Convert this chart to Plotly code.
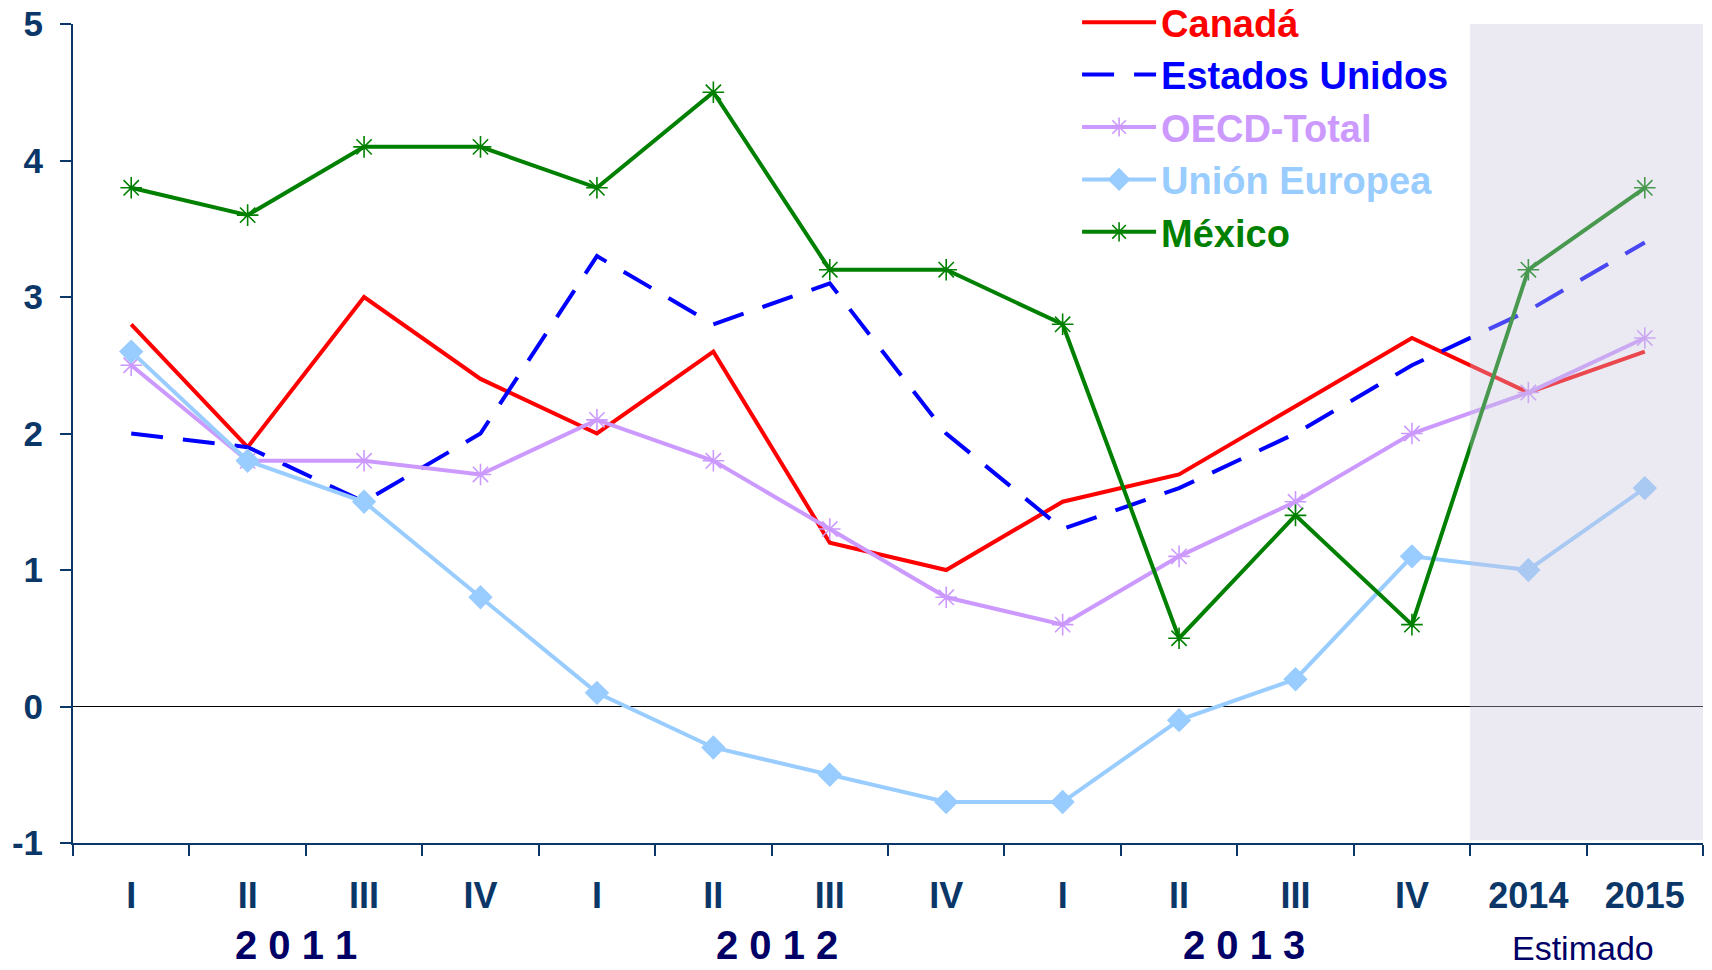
import plotly.graph_objects as go

categories = ["I", "II", "III", "IV", "I ", "II ", "III ", "IV ", "I  ", "II  ", "III  ", "IV  ", "2014", "2015"]
tick_text = ["I", "II", "III", "IV", "I", "II", "III", "IV", "I", "II", "III", "IV", "2014", "2015"]
y_ticks = [-1, 0, 1, 2, 3, 4, 5]
y_tick_text = ["-1", "0", "1", "2", "3", "4", "5"]

canada = [2.8, 1.9, 3.0, 2.4, 2.0, 2.6, 1.2, 1.0, 1.5, 1.7, 2.2, 2.7, 2.3, 2.6]
estados_unidos = [2.0, 1.9, 1.5, 2.0, 3.3, 2.8, 3.1, 2.0, 1.3, 1.6, 2.0, 2.5, 2.9, 3.4]
oecd_total = [2.5, 1.8, 1.8, 1.7, 2.1, 1.8, 1.3, 0.8, 0.6, 1.1, 1.5, 2.0, 2.3, 2.7]
union_europea = [2.6, 1.8, 1.5, 0.8, 0.1, -0.3, -0.5, -0.7, -0.7, -0.1, 0.2, 1.1, 1.0, 1.6]
mexico = [3.8, 3.6, 4.1, 4.1, 3.8, 4.5, 3.2, 3.2, 2.8, 0.5, 1.4, 0.6, 3.2, 3.8]

group_labels = ["2 0 1 1", "2 0 1 2", "2 0 1 3", "Estimado"]
group_centers = [1.5, 5.5, 9.5, 12.5]
group_label_xshift = [-10, 5, 7, -4]

AXIS = "#0B3768"
NAVY = "#000066"
FONT = "Liberation Sans, Arial, sans-serif"

fig = go.Figure()

def add(name, y, color, dash="solid", symbol=None, msize=14):
    mode = "lines+markers" if symbol else "lines"
    fig.add_trace(go.Scatter(
        x=categories, y=y, mode=mode,
        name=f"<span style='color:{color}'>{name}</span>",
        line=dict(color=color, width=4, dash=dash),
        marker=dict(symbol=symbol, size=msize, color=color,
                    line=dict(color=color, width=1.6)) if symbol else None,
    ))

add("Canadá", canada, "#FF0000")
add("Estados Unidos", estados_unidos, "#0000FF", dash="32px,20px")
add("OECD-Total", oecd_total, "#CC99FF", symbol="asterisk-open", msize=18)
add("Unión Europea", union_europea, "#99CCFF", symbol="diamond", msize=17)
add("México", mexico, "#008000", symbol="asterisk-open", msize=18)

# shaded "Estimado" region
fig.add_shape(type="rect", xref="x", yref="y", x0=11.5, x1=13.5, y0=-0.98, y1=5.02,
              fillcolor="rgba(200,196,218,0.36)", line=dict(width=0), layer="above")

for lbl, cx, dx in zip(group_labels, group_centers, group_label_xshift):
    is_year = lbl != "Estimado"
    fig.add_annotation(
        x=cx, y=0, xref="x", yref="paper", yshift=-126, xshift=dx, yanchor="bottom",
        text=lbl, showarrow=False,
        font=dict(family=FONT, size=40 if is_year else 34, color=NAVY,
                  weight="bold" if is_year else "normal"),
    )

fig.update_layout(
    width=1712, height=970,
    margin=dict(l=73, r=9, t=24, b=127, autoexpand=False),
    paper_bgcolor="white", plot_bgcolor="white",
    showlegend=True,
    legend=dict(
        x=0.616, y=1.0403, xanchor="left", yanchor="top",
        font=dict(family=FONT, size=38, weight="bold"),
        bgcolor="rgba(0,0,0,0)", itemwidth=74, tracegroupgap=0,
    ),
    xaxis=dict(
        type="category", categoryorder="array", categoryarray=categories,
        tickvals=categories, ticktext=tick_text,
        range=[-0.5, 13.5], tickson="boundaries", automargin=False,
        ticks="outside", ticklen=11, tickwidth=1.5, tickcolor=AXIS,
        showline=True, linecolor=AXIS, linewidth=2,
        showgrid=False, zeroline=False,
        tickfont=dict(family=FONT, size=36, color=AXIS, weight="bold"),
        ticklabelstandoff=20,
    ),
    yaxis=dict(
        range=[-1, 5], tickvals=y_ticks, ticktext=y_tick_text, automargin=False,
        ticks="outside", ticklen=11, tickwidth=1.5, tickcolor=AXIS,
        showline=True, linecolor=AXIS, linewidth=2,
        showgrid=False, zeroline=True, zerolinecolor="black", zerolinewidth=1.2,
        tickfont=dict(family=FONT, size=35, color=AXIS, weight="bold"),
        ticklabelstandoff=10,
    ),
)

fig.write_html("out.html", config={"displayModeBar": False},
               post_script="document.body.style.margin='0px';")
